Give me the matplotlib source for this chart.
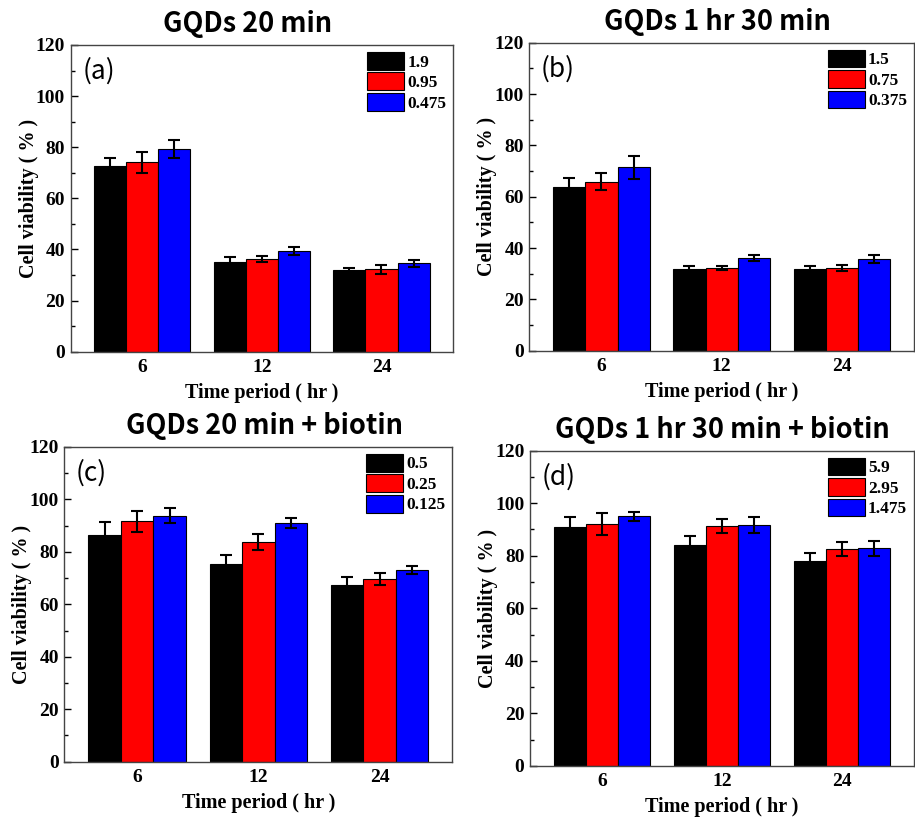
import numpy as np
from matplotlib import pyplot as plt
from matplotlib.ticker import MultipleLocator

# 时间点
time_labels = ['6', '12', '24']

# (a) GQDs 20 min
a_title = 'GQDs 20 min'
a_legend = ['1.9', '0.95', '0.475']
a_values = [[72.8, 35.3, 32.0], [74.1, 36.4, 32.2], [79.2, 39.4, 34.6]]
a_errors = [[3.1, 1.6, 0.9], [4.2, 1.2, 1.6], [3.6, 1.6, 1.4]]

# (b) GQDs 1 hr 30 min
b_title = 'GQDs 1 hr 30 min'
b_legend = ['1.5', '0.75', '0.375']
b_values = [[63.9, 31.9, 31.9], [65.8, 32.2, 32.2], [71.4, 36.0, 35.6]]
b_errors = [[3.2, 1.0, 1.0], [3.3, 0.7, 1.2], [4.4, 1.2, 1.5]]

# (c) GQDs 20 min + biotin
c_title = 'GQDs 20 min + biotin'
c_legend = ['0.5', '0.25', '0.125']
c_values = [[86.5, 75.3, 67.4], [91.6, 83.7, 69.7], [93.8, 90.8, 73.1]]
c_errors = [[5.0, 3.6, 2.9], [4.0, 3.0, 2.3], [3.0, 1.9, 1.6]]

# (d) GQDs 1 hr 30 min + biotin
d_title = 'GQDs 1 hr 30 min + biotin'
d_legend = ['5.9', '2.95', '1.475']
d_values = [[91.1, 84.2, 78.1], [92.1, 91.3, 82.5], [95.1, 91.7, 82.8]]
d_errors = [[3.5, 3.3, 2.8], [4.3, 2.8, 2.6], [1.7, 2.9, 3.0]]

bar_colors = ['#000000', '#ff0000', '#0000ff']

serif = 'Liberation Serif'
sans = ['Noto Sans CJK SC', 'DejaVu Sans']


def draw_panel(fig, rect, title, tag, legend, values, errors, title_x):
	ax = fig.add_axes(rect)
	x = np.arange(len(time_labels))
	w = 0.268
	for i in range(3):
		ax.bar(x + (i - 1) * w, values[i], w, color=bar_colors[i],
			edgecolor='black', linewidth=0.8, label=legend[i],
			yerr=errors[i], capsize=4,
			error_kw=dict(ecolor='black', elinewidth=1.5, capthick=1.5))

	ax.set_xlim(-0.6, 2.6)
	ax.set_ylim(0, 120)
	ax.set_xticks(x)
	ax.set_xticklabels(time_labels)
	ax.yaxis.set_major_locator(MultipleLocator(20))
	ax.yaxis.set_minor_locator(MultipleLocator(10))
	ax.tick_params(axis='y', which='major', direction='in', length=5, width=1, pad=4)
	ax.tick_params(axis='y', which='minor', direction='in', length=3, width=1)
	ax.tick_params(axis='x', length=0, pad=5)
	for lab in ax.get_xticklabels() + ax.get_yticklabels():
		lab.set_fontfamily(serif)
		lab.set_fontweight('bold')
		lab.set_fontsize(14)
	for s in ax.spines.values():
		s.set_color('#444444')
		s.set_linewidth(1.0)

	ax.set_xlabel('Time period ( hr )', fontfamily=serif, fontweight='bold',
		fontsize=14.5, labelpad=5)
	ax.set_ylabel('Cell viability ( % )', fontfamily=serif, fontweight='bold',
		fontsize=14.5, labelpad=-2)

	# 标题和 (a)(b)...
	fig.text(title_x, rect[1] + rect[3] + 0.008, title, ha='center', va='bottom',
		family=sans, fontweight='bold', fontsize=19.5)
	ax.text(0.03, 0.96, tag, transform=ax.transAxes, ha='left', va='top',
		family=sans, fontsize=19)

	ax.legend(loc='upper right', frameon=False,
		prop=dict(family=serif, weight='bold', size=12.5),
		handlelength=2.1, handleheight=1.2, labelspacing=0.1,
		handletextpad=0.2, borderaxespad=0.2, borderpad=0.2)
	return ax


fig = plt.figure(figsize=(9.15, 8.18), dpi=100)

draw_panel(fig, [0.0773, 0.570, 0.418, 0.375], a_title, '(a)', a_legend, a_values, a_errors, 0.271)
draw_panel(fig, [0.5785, 0.5713, 0.4204, 0.3765], b_title, '(b)', b_legend, b_values, b_errors, 0.784)
draw_panel(fig, [0.0703, 0.0688, 0.424, 0.385], c_title, '(c)', c_legend, c_values, c_errors, 0.289)
draw_panel(fig, [0.5792, 0.0636, 0.4198, 0.3855], d_title, '(d)', d_legend, d_values, d_errors, 0.790)

fig.savefig('out.png', dpi=100)
